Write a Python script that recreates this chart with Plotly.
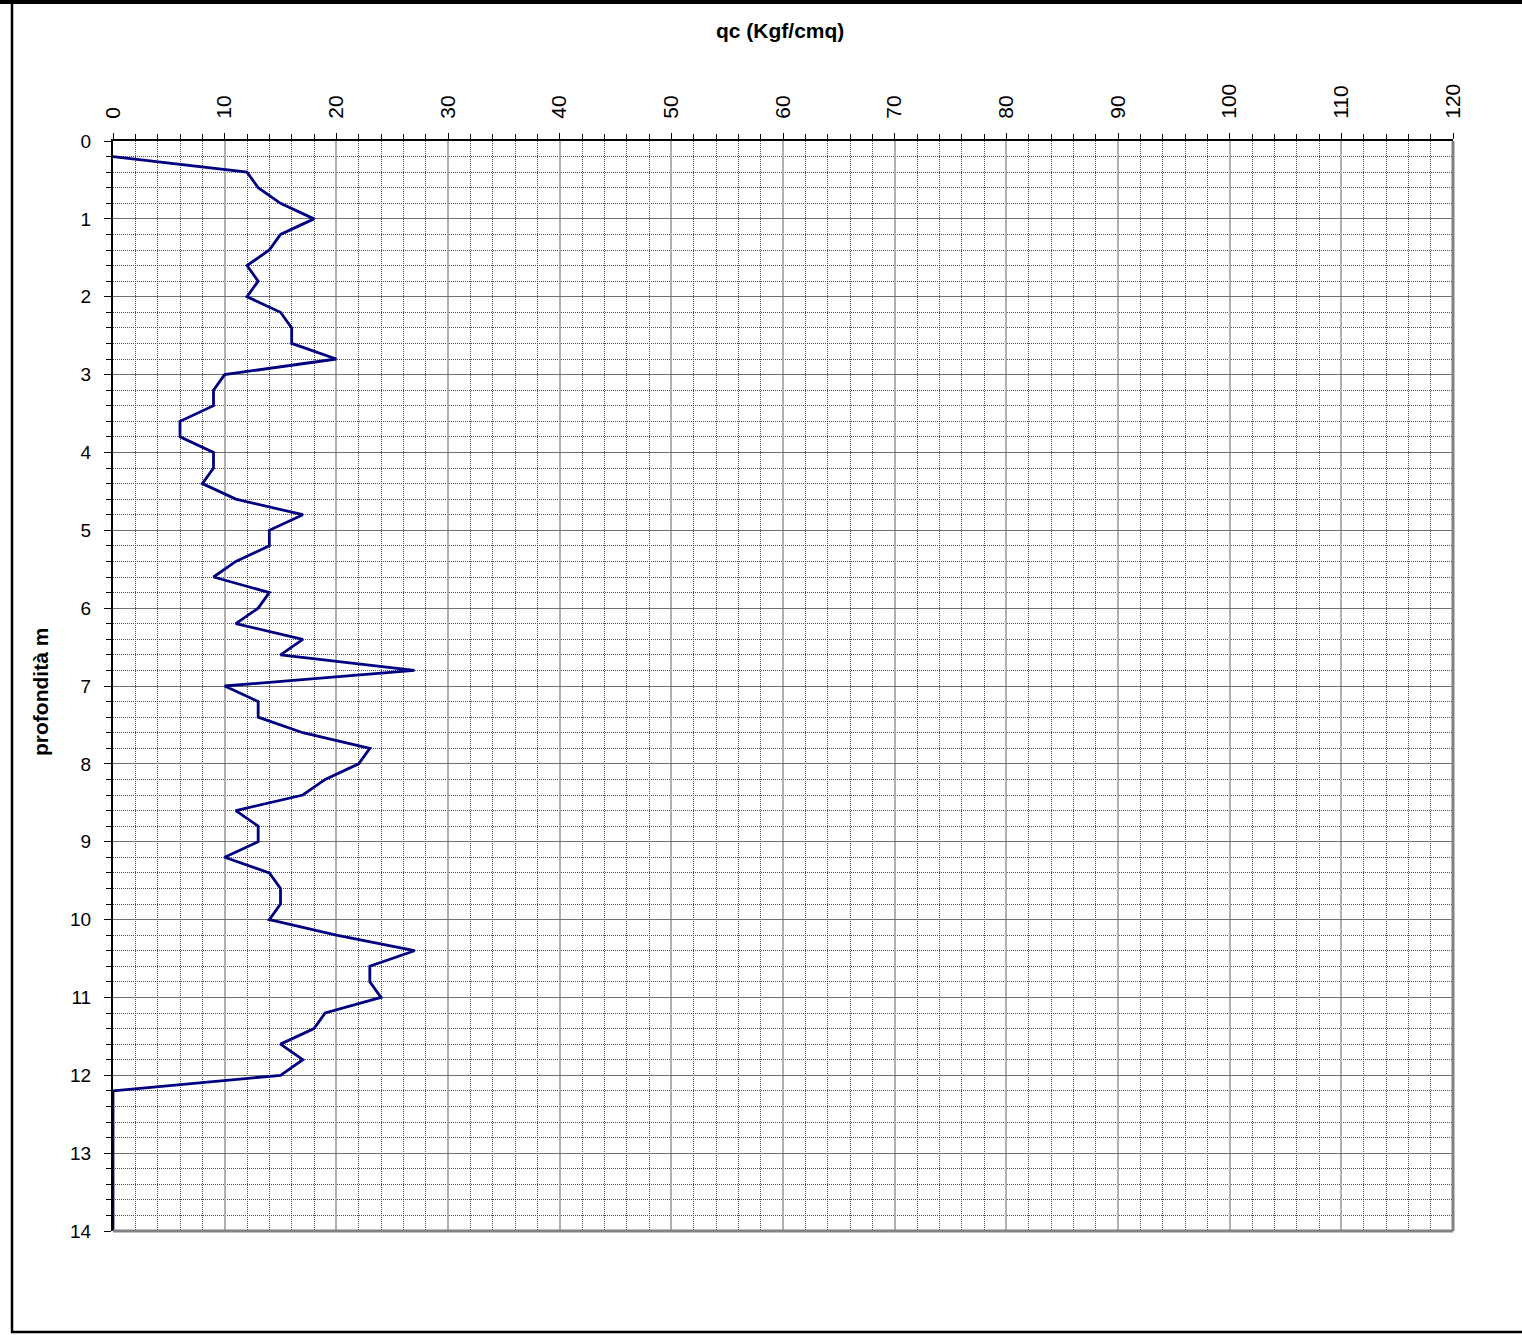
import plotly.graph_objects as go

depth = [0.2, 0.4, 0.6, 0.8, 1.0, 1.2, 1.4, 1.6, 1.8, 2.0,
         2.2, 2.4, 2.6, 2.8, 3.0, 3.2, 3.4, 3.6, 3.8, 4.0,
         4.2, 4.4, 4.6, 4.8, 5.0, 5.2, 5.4, 5.6, 5.8, 6.0,
         6.2, 6.4, 6.6, 6.8, 7.0, 7.2, 7.4, 7.6, 7.8, 8.0,
         8.2, 8.4, 8.6, 8.8, 9.0, 9.2, 9.4, 9.6, 9.8, 10.0,
         10.2, 10.4, 10.6, 10.8, 11.0, 11.2, 11.4, 11.6, 11.8, 12.0,
         12.2, 12.4, 12.6, 12.8, 13.0, 13.2, 13.4, 13.6, 13.8, 14.0]
qc = [0, 12, 13, 15, 18, 15, 14, 12, 13, 12,
      15, 16, 16, 20, 10, 9, 9, 6, 6, 9,
      9, 8, 11, 17, 14, 14, 11, 9, 14, 13,
      11, 17, 15, 27, 10, 13, 13, 17, 23, 22,
      19, 17, 11, 13, 13, 10, 14, 15, 15, 14,
      20, 27, 23, 23, 24, 19, 18, 15, 17, 15,
      0, 0, 0, 0, 0, 0, 0, 0, 0, 0]

x_ticks = list(range(0, 121, 10))
y_ticks = list(range(0, 15))

W, H = 1522, 1335
L, R, T, B = 113, 1453, 141, 1231

fig = go.Figure()
fig.add_trace(go.Scatter(x=qc, y=depth, mode="lines",
                         line=dict(color="#000080", width=2.8),
                         showlegend=False, hoverinfo="skip"))

font = "Liberation Sans, Arial, sans-serif"

def px_x(p):
    return (p - L) / (R - L)

def px_y(p):
    return 1 - (p - T) / (B - T)

fig.update_layout(
    width=W, height=H,
    margin=dict(l=L, r=W - R, t=T, b=H - B),
    paper_bgcolor="white", plot_bgcolor="white",
    font=dict(family=font, size=19, color="black"),
    xaxis=dict(
        side="top", range=[0, 120], tickvals=x_ticks, tickangle=-90,
        showgrid=True, gridcolor="#b0b0b0", gridwidth=2,
        showline=True, linecolor="black", linewidth=2,
        ticks="outside", ticklen=6, tickcolor="black",
        ticklabelstandoff=10,
        zeroline=False, layer="below traces",
        tickfont=dict(size=21),
        minor=dict(dtick=2, showgrid=True, gridcolor="#505050", griddash="1px,1px",
                   gridwidth=1, ticks="outside", ticklen=5, tickcolor="black"),
    ),
    yaxis=dict(
        range=[14, 0], tickvals=y_ticks,
        showgrid=True, gridcolor="#707070", gridwidth=1,
        showline=True, linecolor="black", linewidth=2,
        ticks="outside", ticklen=7, tickcolor="black",
        ticklabelstandoff=9,
        zeroline=False, layer="below traces",
        tickfont=dict(size=19),
        minor=dict(dtick=0.2, showgrid=True, gridcolor="#505050", griddash="1px,1px",
                   gridwidth=1, ticks="outside", ticklen=5, tickcolor="black"),
    ),
    shapes=[
        # right and bottom gray plot border
        dict(type="line", xref="paper", yref="paper", x0=1, x1=1, y0=0, y1=1,
             line=dict(color="#808080", width=3)),
        dict(type="line", xref="paper", yref="paper", x0=0, x1=1, y0=0, y1=0,
             line=dict(color="#808080", width=3)),
        # outer black frame
        dict(type="line", xref="paper", yref="paper",
             x0=px_x(0), x1=px_x(W), y0=px_y(2), y1=px_y(2),
             line=dict(color="black", width=4)),
        dict(type="line", xref="paper", yref="paper",
             x0=px_x(12), x1=px_x(12), y0=px_y(0), y1=px_y(1333),
             line=dict(color="black", width=2.5)),
        dict(type="line", xref="paper", yref="paper",
             x0=px_x(11), x1=px_x(W), y0=px_y(1332), y1=px_y(1332),
             line=dict(color="black", width=2.5)),
    ],
    annotations=[
        dict(text="<b>qc (Kgf/cmq)</b>", xref="paper", yref="paper",
             x=px_x(780), y=px_y(31), xanchor="center", yanchor="middle",
             showarrow=False, font=dict(size=21, family=font)),
        dict(text="<b>profondità m</b>", xref="paper", yref="paper",
             x=px_x(41), y=px_y(692), xanchor="center", yanchor="middle",
             showarrow=False, textangle=-90,
             font=dict(size=21, family=font)),
    ],
)

fig.write_html("out.html")
